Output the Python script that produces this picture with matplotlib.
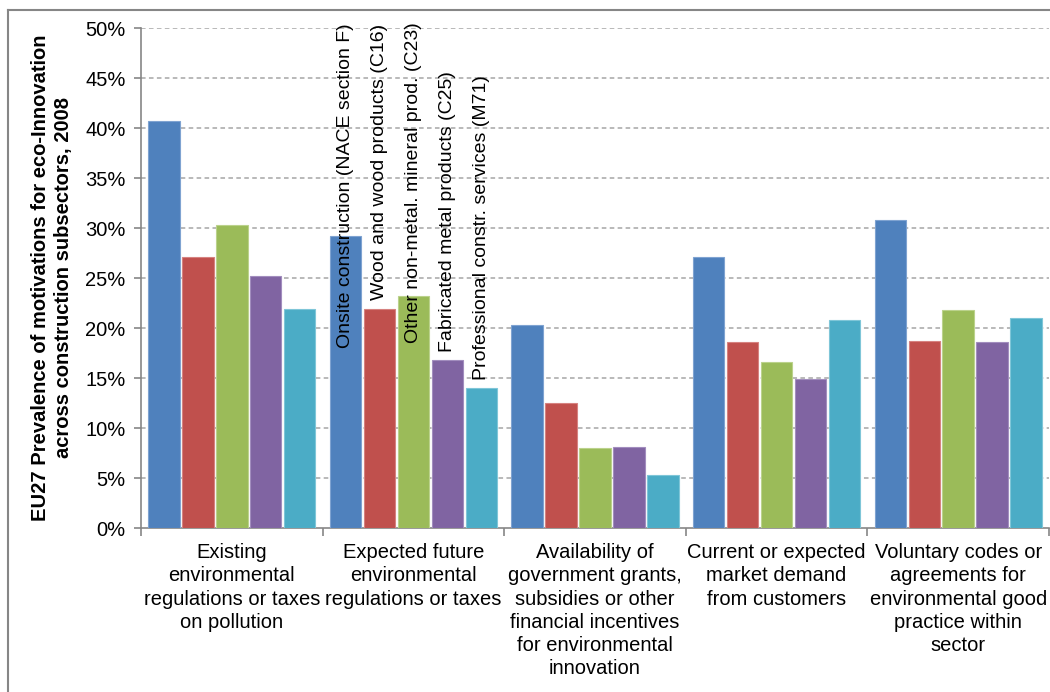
import matplotlib
matplotlib.use('Agg')
import matplotlib.pyplot as plt
from matplotlib.lines import Line2D
import numpy as np

plt.rcParams['font.family'] = ['Liberation Sans', 'DejaVu Sans']

categories = [
    'Existing\nenvironmental\nregulations or taxes\non pollution',
    'Expected future\nenvironmental\nregulations or taxes',
    'Availability of\ngovernment grants,\nsubsidies or other\nfinancial incentives\nfor environmental\ninnovation',
    'Current or expected\nmarket demand\nfrom customers',
    'Voluntary codes or\nagreements for\nenvironmental good\npractice within\nsector',
]
series_names = [
    'Onsite construction (NACE section F)',
    'Wood and wood products (C16)',
    'Other non-metal. mineral prod. (C23)',
    'Fabricated metal products (C25)',
    'Professional constr. services (M71)',
]
onsite = [40.7, 29.2, 20.3, 27.1, 30.8]
wood = [27.1, 21.9, 12.5, 18.6, 18.7]
mineral = [30.3, 23.2, 8.0, 16.6, 21.8]
metal = [25.2, 16.8, 8.1, 14.9, 18.6]
services = [21.9, 14.0, 5.3, 20.8, 21.0]
colors = ['#4F81BD', '#C0504D', '#9BBB59', '#8064A2', '#4BACC6']
edges = ['#7FA3D1', '#D68280', '#BBD28C', '#A28DBE', '#7FC6D8']

# where the series names sit (bottom of rotated text, in % units) inside group 2
label_bottom = [18.0, 22.8, 18.5, 17.6, 14.8]

series = [onsite, wood, mineral, metal, services]

fig = plt.figure(figsize=(10.5, 6.92), dpi=100)
ax = fig.add_axes([141 / 1050, 1 - 528 / 692, 908 / 1050, 500 / 692])

x = np.arange(len(categories))
step = 0.187
width = 0.173
for j, vals in enumerate(series):
    ax.bar(x + (j - 2) * step, vals, width, color=colors[j], edgecolor=edges[j],
           linewidth=0.8, zorder=3)
    ax.text(1 + (j - 2) * step, label_bottom[j], series_names[j], rotation=90,
            ha='center', va='bottom', fontsize=14, color='black', zorder=4)

ax.set_xlim(-0.5, len(categories) - 0.5)
ax.set_ylim(0, 50)
ax.set_yticks(np.arange(0, 51, 5))
ax.set_yticklabels([f'{v}%' for v in range(0, 51, 5)], fontsize=14.5)
for v in range(5, 51, 5):
    ax.axhline(v, color='#A6A6A6', linestyle=(0, (3, 2.2)), linewidth=1.1, zorder=1)

ax.set_xticks(x)
ax.set_xticklabels(categories, fontsize=14.5, linespacing=1.28)
ax.set_xticks(np.arange(-0.5, len(categories)), minor=True)
ax.tick_params(axis='x', which='major', length=0, pad=11)
ax.tick_params(axis='x', which='minor', length=6, color='#868686', width=1.2)
ax.tick_params(axis='y', length=5, color='#868686', width=1.2, pad=6)

for s in ['top', 'right']:
    ax.spines[s].set_visible(False)
for s in ['left', 'bottom']:
    ax.spines[s].set_color('#868686')
    ax.spines[s].set_linewidth(1.2)

ax.set_ylabel('EU27 Prevalence of motivations for eco-Innovation\nacross construction subsectors, 2008',
              fontsize=14.5, fontweight='bold', linespacing=1.25, labelpad=9)

# chart area border
fig.add_artist(Line2D([7.5 / 1050, 7.5 / 1050], [0, 1 - 10 / 692], color='#868686', linewidth=1.5))
fig.add_artist(Line2D([7.5 / 1050, 1], [1 - 10 / 692, 1 - 10 / 692], color='#868686', linewidth=1.5))

fig.savefig('out.png', dpi=100)
